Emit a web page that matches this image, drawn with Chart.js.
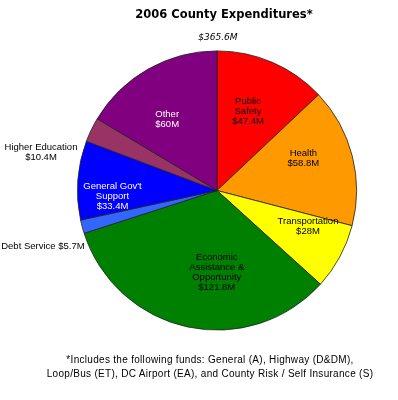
<!DOCTYPE html>
<html>
<head>
<meta charset="utf-8">
<script src="https://cdn.jsdelivr.net/npm/chart.js@4/dist/chart.umd.min.js"></script>
<style>
  html,body{margin:0;padding:0;background:#fff;}
  #wrap{position:relative;width:398px;height:400px;}
  canvas{position:absolute;left:0;top:0;}
  .t{position:absolute;left:0;width:398px;text-align:center;white-space:nowrap;}
  #title{top:7px;left:25px;font:bold 11.5px "DejaVu Sans",sans-serif;color:#000;}
  #sub{top:32px;left:19px;font:italic 9px "DejaVu Sans",sans-serif;color:#000;}
  #foot{top:353px;left:11px;font:10px "Liberation Sans",Arial,sans-serif;letter-spacing:0.3px;line-height:14px;color:#000;}
</style>
</head>
<body>
<div id="wrap">
  <canvas id="c" width="398" height="400"></canvas>
  <div class="t" id="title">2006 County Expenditures*</div>
  <div class="t" id="sub">$365.6M</div>
  <div class="t" id="foot">*Includes the following funds: General (A), Highway (D&amp;DM),<br>Loop/Bus (ET), DC Airport (EA), and County Risk / Self Insurance (S)</div>
</div>
<script>
const categories = ["Public Safety","Health","Transportation","Economic Assistance & Opportunity","Debt Service","General Gov't Support","Higher Education","Other"];
const values = [47.4, 58.8, 28, 121.8, 5.7, 33.4, 10.4, 60];
const labelLines = [
  ["Public","Safety","$47.4M"],
  ["Health","$58.8M"],
  ["Transportation","$28M"],
  ["Economic","Assistance &","Opportunity","$121.8M"],
  ["Debt Service $5.7M"],
  ["General Gov't","Support","$33.4M"],
  ["Higher Education","$10.4M"],
  ["Other","$60M"]
];
const colors = ["#FF0000","#FF9900","#FFFF00","#008000","#3366FF","#0000FF","#993366","#800080"];
// label placement: radius factor, angle offset (deg), text colour
const labelStyle = [
  {f:0.61, dA:-2,   c:"#000"},
  {f:0.66, dA:-6,   c:"#000"},
  {f:0.70, dA:-7,   c:"#000"},
  {f:0.59, dA:-12,  c:"#000"},
  {f:1.31, dA:-2.8, c:"#000"},
  {f:0.75, dA:-7.6, c:"#fff"},
  {f:1.29, dA:-13.6,c:"#000"},
  {f:0.62, dA:-5.6, c:"#fff"}
];

const labelPlugin = {
  id:'sliceLabels',
  afterDatasetsDraw(chart){
    const ctx = chart.ctx;
    const meta = chart.getDatasetMeta(0);
    ctx.save();
    ctx.font = '9.5px "Liberation Sans", Arial, sans-serif';
    ctx.textAlign = 'center';
    ctx.textBaseline = 'middle';
    meta.data.forEach((arc,i)=>{
      const p = arc.getProps(['x','y','startAngle','endAngle','outerRadius'], true);
      const mid = (p.startAngle + p.endAngle)/2 + labelStyle[i].dA*Math.PI/180;
      const r = p.outerRadius*labelStyle[i].f;
      const cx = p.x + Math.cos(mid)*r;
      const cy = p.y + Math.sin(mid)*r;
      const lines = labelLines[i];
      const lh = 10;
      ctx.fillStyle = labelStyle[i].c;
      lines.forEach((ln,k)=>{
        ctx.fillText(ln, cx, cy + (k-(lines.length-1)/2)*lh);
      });
    });
    ctx.restore();
  }
};

new Chart(document.getElementById('c'), {
  type:'pie',
  data:{
    labels:categories,
    datasets:[{data:values, backgroundColor:colors, borderColor:'#222', borderWidth:0.8}]
  },
  options:{
    responsive:false,
    animation:false,
    layout:{padding:{left:77,right:41,top:50,bottom:69}},
    plugins:{legend:{display:false}, tooltip:{enabled:false}, title:{display:false}}
  },
  plugins:[labelPlugin]
});
</script>
</body>
</html>
